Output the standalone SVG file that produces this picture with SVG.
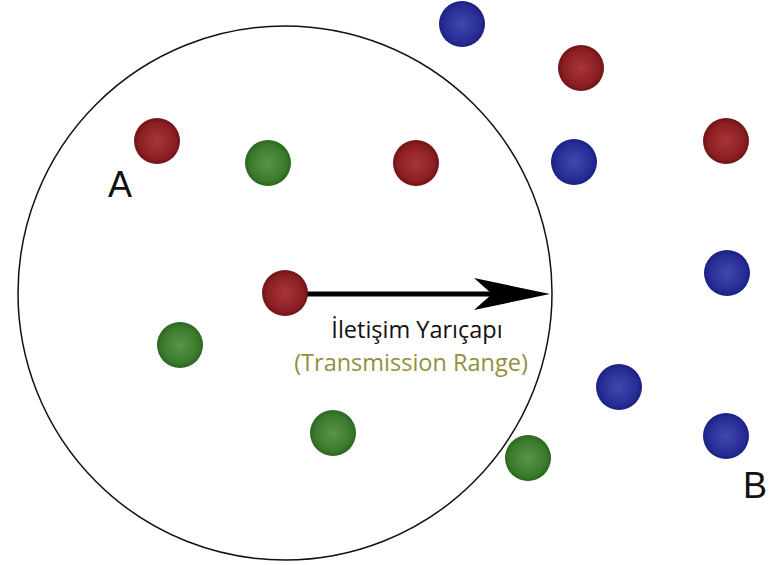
<svg xmlns="http://www.w3.org/2000/svg" width="776" height="565" viewBox="0 0 776 565">
  <style>
    .lbl { font-family: "Liberation Sans", Arial, sans-serif; font-size: 36px; fill: #111; }
    .cap { font-family: "Open Sans", "Noto Sans", sans-serif; font-size: 23.5px; text-anchor: middle; }
    .red { fill: url(#gRed); }
    .green { fill: url(#gGreen); }
    .blue { fill: url(#gBlue); }
  </style>
  <defs>
    <radialGradient id="gRed" cx="0.5" cy="0.5" r="0.5">
      <stop offset="0" stop-color="#a8353a"/>
      <stop offset="0.8" stop-color="#8a1e22"/>
      <stop offset="1" stop-color="#6e1216"/>
    </radialGradient>
    <radialGradient id="gGreen" cx="0.5" cy="0.5" r="0.5">
      <stop offset="0" stop-color="#5a9448"/>
      <stop offset="0.8" stop-color="#3a7a2c"/>
      <stop offset="1" stop-color="#2a6420"/>
    </radialGradient>
    <radialGradient id="gBlue" cx="0.5" cy="0.5" r="0.5">
      <stop offset="0" stop-color="#4248ae"/>
      <stop offset="0.8" stop-color="#262c94"/>
      <stop offset="1" stop-color="#1a1f80"/>
    </radialGradient>
  </defs>
  <rect width="776" height="565" fill="#fff"/>

  <!-- transmission range circle -->
  <circle id="range" cx="285" cy="293" r="267" fill="none" stroke="#111" stroke-width="1.5"/>

  <!-- radius arrow -->
  <g id="connectors">
    <line x1="300" y1="294" x2="520" y2="294" stroke="#000" stroke-width="5"/>
    <path d="M550,294 L474,278 L492,294 L474,310 Z" fill="#000"/>
  </g>

  <g id="n1"><circle class="blue" cx="462" cy="24" r="23"/></g>
  <g id="n2"><circle class="red" cx="581" cy="68" r="23"/></g>
  <g id="n3"><circle class="red" cx="157" cy="141" r="23"/></g>
  <g id="n4"><circle class="green" cx="268" cy="163" r="23"/></g>
  <g id="n5"><circle class="red" cx="416" cy="163" r="23"/></g>
  <g id="n6"><circle class="blue" cx="574" cy="162" r="23"/></g>
  <g id="n7"><circle class="red" cx="726" cy="141" r="23"/></g>
  <g id="n8"><circle class="blue" cx="727" cy="273" r="23"/></g>
  <g id="n9"><circle class="red" cx="285" cy="293" r="23"/></g>
  <g id="n10"><circle class="green" cx="180" cy="345" r="23"/></g>
  <g id="n11"><circle class="blue" cx="619" cy="387" r="23"/></g>
  <g id="n12"><circle class="green" cx="333" cy="433" r="23"/></g>
  <g id="n13"><circle class="blue" cx="726" cy="436" r="23"/></g>
  <g id="n14"><circle class="green" cx="528" cy="458" r="23"/></g>

  <text class="lbl" x="108" y="197">A</text>
  <text class="lbl" x="743" y="498">B</text>

  <text class="cap" x="417" y="338" fill="#111">İletişim Yarıçapı</text>
  <text class="cap" x="411" y="371" fill="#948e3e">(Transmission Range)</text>
</svg>
